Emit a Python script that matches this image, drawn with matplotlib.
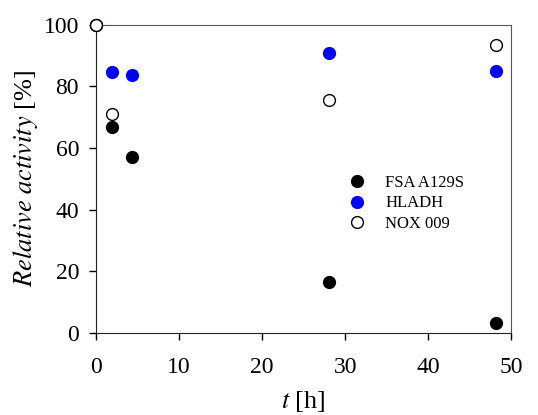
import matplotlib
matplotlib.use("Agg")
import matplotlib.pyplot as plt

t_fsa = [0, 2.0, 4.4, 28.0, 48.2]
fsa = [100, 66.7, 57.0, 16.7, 3.3]
t_hladh = [0, 2.0, 4.4, 28.0, 48.2]
hladh = [100, 84.8, 83.6, 90.8, 84.9]
t_nox = [0, 2.0, 28.0, 48.2]
nox = [100, 71.0, 75.6, 93.4]

plt.rcParams['font.family'] = ['Liberation Serif', 'DejaVu Serif']
plt.rcParams['mathtext.fontset'] = 'stix'

fig = plt.figure(figsize=(5.38, 4.15), dpi=100)
ax = fig.add_axes([0.178, 0.1976, 0.7725, 0.7429])

ms = 8.5
ax.plot(t_fsa, fsa, 'o', color='black', ms=ms, mec='black', clip_on=False, label='FSA A129S', zorder=3)
ax.plot(t_hladh, hladh, 'o', color='blue', ms=ms, mec='blue', clip_on=False, label='HLADH', zorder=3)
ax.plot(t_nox, nox, 'o', mfc='white', mec='black', ms=ms, mew=1.0, clip_on=False, label='NOX 009', zorder=4)

ax.set_xlim(0, 50)
ax.set_ylim(0, 100)
ax.set_xticks([0, 10, 20, 30, 40, 50])
ax.set_yticks([0, 20, 40, 60, 80, 100])
ax.tick_params(direction='out', length=5, width=1, labelsize=17, top=False, right=False)
ax.tick_params(axis='x', pad=12)
ax.tick_params(axis='y', pad=7)
for s in ['left', 'bottom']:
    ax.spines[s].set_color('#222222')
for s in ['top', 'right']:
    ax.spines[s].set_color('#555555')

ax.set_xlabel(r'$\it{t}$ [h]', fontsize=19, labelpad=8)
ax.set_ylabel(r'$\it{Relative\ activity}$ [%]', fontsize=19, labelpad=3)

leg = ax.legend(loc='upper left', bbox_to_anchor=(0.592, 0.535), frameon=False, fontsize=12,
                handlelength=1.0, handletextpad=1.2, labelspacing=0.28, borderaxespad=0)
fig.savefig('out.png', dpi=100)
